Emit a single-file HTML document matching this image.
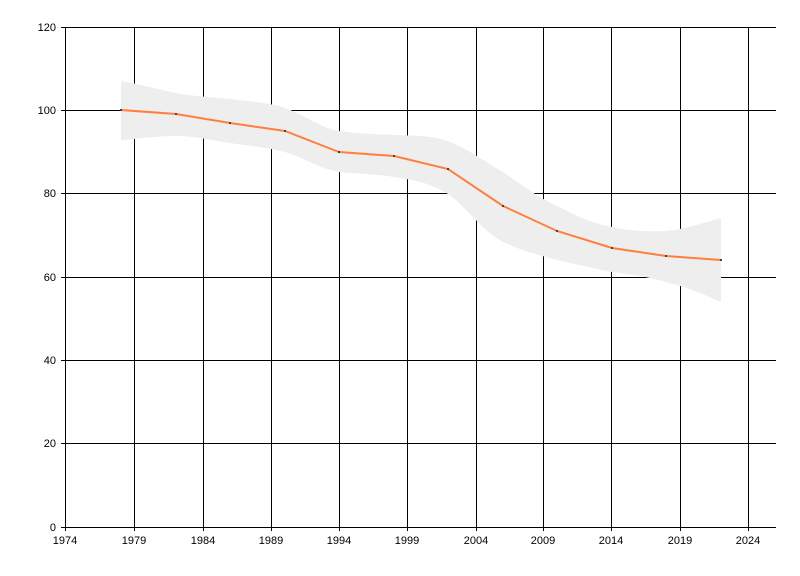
<!DOCTYPE html>
<html><head><style>
body{margin:0;background:#fff;}
svg{display:block;font-family:"Liberation Sans",sans-serif;font-size:11px;}
</style></head><body>
<svg width="800" height="576" viewBox="0 0 800 576">
<rect width="800" height="576" fill="#fff"/>
<g stroke="#000" stroke-width="1" shape-rendering="crispEdges">
<line x1="65.5" y1="27" x2="65.5" y2="527"/>
<line x1="61" y1="527.5" x2="776" y2="527.5"/>
<line x1="61" y1="27.5" x2="776" y2="27.5"/>
<line x1="61" y1="110.5" x2="776" y2="110.5"/>
<line x1="61" y1="193.5" x2="776" y2="193.5"/>
<line x1="61" y1="277.5" x2="776" y2="277.5"/>
<line x1="61" y1="360.5" x2="776" y2="360.5"/>
<line x1="61" y1="443.5" x2="776" y2="443.5"/>
<line x1="134.5" y1="27" x2="134.5" y2="531"/>
<line x1="203.5" y1="27" x2="203.5" y2="531"/>
<line x1="271.5" y1="27" x2="271.5" y2="531"/>
<line x1="339.5" y1="27" x2="339.5" y2="531"/>
<line x1="407.5" y1="27" x2="407.5" y2="531"/>
<line x1="476.5" y1="27" x2="476.5" y2="531"/>
<line x1="543.5" y1="27" x2="543.5" y2="531"/>
<line x1="611.5" y1="27" x2="611.5" y2="531"/>
<line x1="680.5" y1="27" x2="680.5" y2="531"/>
<line x1="748.5" y1="27" x2="748.5" y2="531"/>
<line x1="65.5" y1="527" x2="65.5" y2="531"/>
</g>
<path d="M121,81 C150,86 160,90 176,93 C200,97 210,97 230,99 C255,102 270,103 285,108 C305,115 320,128 339,131 C360,134 375,134 394,135 C415,136 430,135 448,141 C470,150 485,162 503,172 C520,183 535,196 557,206 C575,215 590,223 612,227 C630,231 648,232 666,231 C685,229 700,224 721,218 L721,302 C705,295 690,288 666,282 C648,277 630,274 612,272 C592,268 575,264 557,260 C535,254 520,250 503,242 C480,229 465,205 448,194 C430,183 415,180 394,177 C375,174 360,174 339,172 C318,168 300,156 285,152 C265,147 250,146 230,143 C210,140 195,136 176,136 C155,136 140,139 121,140 Z" fill="#eeeeee"/>
<polyline points="121,110 176,114 230,123 285,131 339,152 394,156 448,169 503,206 557,231 612,248 666,256 721,260" fill="none" stroke="#ff7f3f" stroke-width="2"/>
<g fill="#444">
<rect x="120" y="109" width="2" height="2"/><rect x="175" y="113" width="2" height="2"/><rect x="229" y="122" width="2" height="2"/><rect x="284" y="130" width="2" height="2"/><rect x="338" y="151" width="2" height="2"/><rect x="393" y="155" width="2" height="2"/><rect x="447" y="168" width="2" height="2"/><rect x="502" y="205" width="2" height="2"/><rect x="556" y="230" width="2" height="2"/><rect x="611" y="247" width="2" height="2"/><rect x="665" y="255" width="2" height="2"/><rect x="720" y="259" width="2" height="2"/>
</g>
<g fill="#000" text-anchor="end">
<text x="56" y="31">120</text><text x="56" y="114">100</text><text x="56" y="197">80</text><text x="56" y="281">60</text><text x="56" y="364">40</text><text x="56" y="447">20</text><text x="56" y="531">0</text>
</g>
<g fill="#000" text-anchor="middle">
<text x="65" y="544">1974</text><text x="134" y="544">1979</text><text x="203" y="544">1984</text><text x="271" y="544">1989</text><text x="339" y="544">1994</text><text x="407" y="544">1999</text><text x="476" y="544">2004</text><text x="543" y="544">2009</text><text x="611" y="544">2014</text><text x="680" y="544">2019</text><text x="748" y="544">2024</text>
</g>
</svg>
</body></html>
